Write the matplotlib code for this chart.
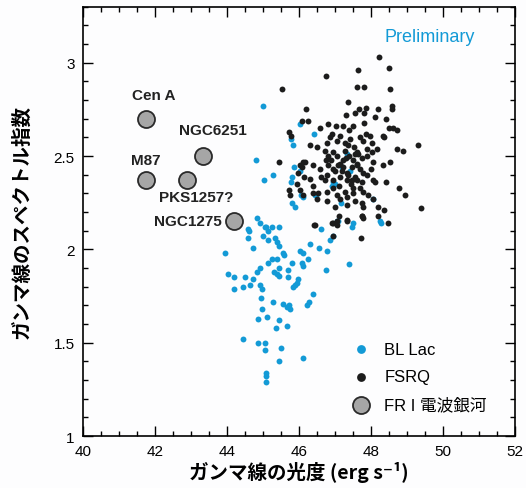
import numpy as np
import matplotlib
matplotlib.use("Agg")
import matplotlib.pyplot as plt
from matplotlib.font_manager import FontProperties
from matplotlib.ticker import MultipleLocator, FormatStrFormatter

# FSRQ (luminosity, index)
fsrq_x = [48.23, 48.5, 46.75, 47.63, 47.61, 47.81, 48.52, 45.52, 47.36, 48.58, 48.58, 46.19,
          47.68, 47.87, 47.8, 47.56, 47.3, 48.2, 48.11, 48.42, 46.07, 46.26, 46.8, 47.03,
          47.23, 47.49, 47.81, 48.62, 48.71, 48.5, 46.58, 45.73, 45.78, 47.97, 48.34, 46.93,
          47.14, 47.42, 47.69, 47.79, 46.31, 46.51, 46.77, 47.05, 47.28, 47.54, 48.02, 48.16,
          48.36, 47.88, 48.02, 49.3, 48.71, 48.9, 46.17, 46.72, 46.81, 46.75, 46.95, 47.06,
          47.28, 47.4, 47.23, 47.51, 47.65, 47.74, 47.88, 48.06, 48.53, 48.34, 45.43, 46.03,
          46.07, 46.1, 46.4, 46.58, 46.81, 46.95, 47.09, 47.23, 47.32, 47.46, 47.6, 47.69,
          47.79, 45.98, 46.14, 46.31, 46.77, 46.72, 46.95, 47.14, 47.32, 47.46, 47.6, 47.74,
          47.69, 48.06, 48.11, 48.42, 48.79, 48.94, 45.93, 46.03, 46.4, 46.54, 46.77, 46.95,
          47.05, 47.28, 47.51, 47.79, 47.93, 45.73, 45.75, 46.1, 46.4, 46.49, 46.77, 47.14,
          47.32, 47.56, 47.74, 48.06, 49.38, 47.0, 47.32, 47.79, 48.2, 48.37, 48.2, 48.48,
          46.44, 46.95, 47.05, 47.32, 47.74, 47.12, 47.32, 47.74, 47.77, 46.42, 46.92, 47.05,
          46.95, 47.71, 47.2, 47.35, 47.55, 47.0, 47.15, 47.45, 47.6, 47.9, 46.9, 47.35,
          47.5, 47.62, 47.4, 47.1, 46.6, 47.85, 48.0, 47.3, 46.85, 47.55]
fsrq_y = [3.03, 2.97, 2.93, 2.96, 2.87, 2.87, 2.86, 2.86, 2.79, 2.77, 2.75, 2.75,
          2.75, 2.76, 2.73, 2.73, 2.72, 2.75, 2.71, 2.70, 2.69, 2.69, 2.67, 2.66,
          2.66, 2.66, 2.68, 2.65, 2.64, 2.65, 2.65, 2.63, 2.61, 2.61, 2.61, 2.62,
          2.61, 2.59, 2.60, 2.58, 2.56, 2.55, 2.57, 2.58, 2.57, 2.55, 2.57, 2.54,
          2.60, 2.54, 2.52, 2.56, 2.54, 2.53, 2.47, 2.53, 2.50, 2.48, 2.52, 2.50,
          2.53, 2.50, 2.48, 2.48, 2.51, 2.49, 2.50, 2.47, 2.47, 2.45, 2.47, 2.45,
          2.44, 2.47, 2.45, 2.43, 2.45, 2.43, 2.45, 2.44, 2.41, 2.44, 2.45, 2.43,
          2.41, 2.41, 2.39, 2.38, 2.40, 2.37, 2.37, 2.39, 2.37, 2.37, 2.37, 2.36,
          2.33, 2.37, 2.36, 2.36, 2.33, 2.29, 2.35, 2.32, 2.34, 2.30, 2.31, 2.33,
          2.29, 2.31, 2.30, 2.31, 2.29, 2.32, 2.29, 2.29, 2.30, 2.27, 2.26, 2.27,
          2.28, 2.26, 2.25, 2.27, 2.22, 2.23, 2.24, 2.23, 2.23, 2.21, 2.18, 2.14,
          2.13, 2.14, 2.15, 2.15, 2.18, 2.18, 2.16, 2.18, 2.17, 2.13, 2.14, 2.13,
          2.07, 2.06, 2.42, 2.40, 2.39, 2.42, 2.46, 2.35, 2.52, 2.40, 2.48, 2.56,
          2.33, 2.46, 2.64, 2.34, 2.39, 2.62, 2.43, 2.49, 2.60, 2.51]

# BL Lac (luminosity, index)
bllac_x = [45.0, 46.03, 46.42, 45.78, 45.84, 44.8, 47.34, 45.29, 45.04, 45.81, 45.78, 46.03,
           46.95, 47.0, 47.42, 46.05, 46.47, 48.06, 45.8, 45.89, 48.25, 46.6, 47.05, 47.46,
           47.51, 47.16, 44.84, 44.92, 45.24, 45.44, 45.06, 44.59, 44.62, 45.08, 45.15, 44.57,
           44.99, 45.13, 45.33, 45.4, 45.43, 44.73, 43.94, 45.55, 45.59, 45.4, 45.26, 45.13,
           45.81, 46.03, 46.12, 46.07, 46.1, 46.24, 46.31, 46.56, 46.77, 46.86, 46.95, 47.38,
           46.74, 44.04, 44.2, 44.18, 44.45, 44.5, 44.64, 44.73, 44.84, 44.92, 44.92, 44.96,
           45.31, 45.38, 45.44, 45.45, 45.7, 45.7, 45.98, 45.93, 45.84, 45.89, 44.94, 45.29,
           44.98, 45.56, 45.66, 45.73, 45.75, 46.4, 46.29, 46.21, 44.87, 45.1, 45.45, 45.35,
           45.66, 44.44, 44.87, 45.06, 45.06, 45.5, 45.43, 46.1, 45.07, 45.07, 45.07, 45.86,
           46.12, 46.44, 47.19, 46.93, 48.28, 47.07]
bllac_y = [2.77, 2.67, 2.62, 2.59, 2.56, 2.48, 2.51, 2.40, 2.37, 2.39, 2.36, 2.42,
           2.36, 2.35, 2.42, 2.29, 2.29, 2.27, 2.25, 2.23, 2.15, 2.11, 2.15, 2.12,
           2.14, 2.25, 2.17, 2.14, 2.12, 2.12, 2.12, 2.11, 2.10, 2.12, 2.10, 2.06,
           2.07, 2.05, 2.06, 2.04, 2.02, 2.01, 1.98, 1.98, 1.97, 1.95, 1.95, 1.93,
           1.93, 1.99, 1.98, 1.93, 1.91, 1.95, 2.03, 2.01, 1.99, 2.05, 2.07, 1.92,
           1.89, 1.87, 1.85, 1.79, 1.80, 1.85, 1.81, 1.84, 1.88, 1.90, 1.81, 1.79,
           1.88, 1.87, 1.86, 1.90, 1.89, 1.85, 1.84, 1.82, 1.80, 1.81, 1.74, 1.72,
           1.68, 1.71, 1.69, 1.70, 1.68, 1.76, 1.72, 1.70, 1.63, 1.64, 1.62, 1.58,
           1.59, 1.52, 1.50, 1.50, 1.46, 1.47, 1.40, 1.42, 1.34, 1.32, 1.29, 2.44,
           2.28, 2.29, 2.44, 2.34, 2.14, 2.15]

# FR I radio galaxies
fr1_names = ["Cen A", "NGC6251", "M87", "PKS1257?", "NGC1275"]
fr1_x = [41.75, 43.33, 41.75, 42.89, 44.19]
fr1_y = [2.70, 2.50, 2.37, 2.37, 2.15]

blue = "#139ad6"
jp = ["Noto Sans CJK JP", "DejaVu Sans"]
lat = ["Liberation Sans", "Noto Sans CJK JP"]

fig = plt.figure(figsize=(5.26, 4.89), dpi=100)
fig.patch.set_facecolor("#fdfdfe")
ax = fig.add_axes([0.158, 0.106, 0.821, 0.878])
ax.set_facecolor("#fdfdfe")

h1 = ax.scatter(bllac_x, bllac_y, s=18, color=blue, lw=0, label="BL Lac", zorder=3)
h2 = ax.scatter(fsrq_x, fsrq_y, s=18, color="#1c1c1c", lw=0, label="FSRQ", zorder=3)
h3 = ax.scatter(fr1_x, fr1_y, s=150, color="#a6a6a6", edgecolor="#2a2a2a", lw=1.3,
                label="FR I 電波銀河", zorder=4)

lab_pos = {"Cen A": (41.97, 2.83, "center"), "NGC6251": (43.61, 2.64, "center"),
           "M87": (41.75, 2.48, "center"), "PKS1257?": (43.14, 2.28, "center"),
           "NGC1275": (43.85, 2.15, "right")}
for n in fr1_names:
    px, py, ha = lab_pos[n]
    ax.text(px, py, n, ha=ha, va="center", fontsize=11, fontweight="bold",
            family="Liberation Sans", color="#222222")

ax.text(49.64, 3.14, "Preliminary", color=blue, fontsize=13, ha="center", va="center",
        family="Liberation Sans")

ax.set_xlim(40, 52)
ax.set_ylim(1, 3.3)
ax.xaxis.set_major_locator(MultipleLocator(2))
ax.xaxis.set_minor_locator(MultipleLocator(0.5))
ax.yaxis.set_major_locator(MultipleLocator(0.5))
ax.yaxis.set_minor_locator(MultipleLocator(0.1))
ax.yaxis.set_major_formatter(FormatStrFormatter("%g"))
ax.tick_params(which="both", direction="in", top=True, right=True, labelsize=11, pad=6)
ax.tick_params(which="major", length=7, width=1)
ax.tick_params(which="minor", length=3.5, width=1)
for lbl in ax.get_xticklabels() + ax.get_yticklabels():
    lbl.set_family("Liberation Sans")
for sp in ax.spines.values():
    sp.set_linewidth(1.2)

ax.set_xlabel("ガンマ線の光度 (erg s⁻¹)", fontsize=14, fontweight="bold", family=jp, labelpad=2)
ax.set_ylabel("ガンマ線のスペクトル指数", fontsize=14, fontweight="bold", family=jp, labelpad=16)

leg = ax.legend(handles=[h1, h2, h3], loc="lower right", bbox_to_anchor=(0.97, 0.02),
                frameon=False, prop=FontProperties(family=lat, size=12),
                handletextpad=0.4, labelspacing=0.75, scatterpoints=1)
leg.legend_handles[0].set_sizes([40])
leg.legend_handles[1].set_sizes([40])

fig.savefig("out.png", dpi=100, facecolor=fig.get_facecolor())
